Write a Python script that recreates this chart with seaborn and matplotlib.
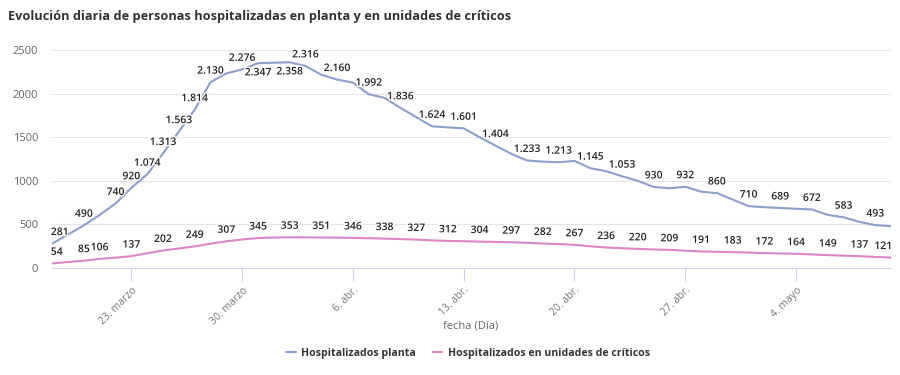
import pandas as pd
import seaborn as sns
import matplotlib.pyplot as plt
import matplotlib.patheffects as pe

# ----------------------------
# Data, one value per day from 18 March to 10 May
# ----------------------------
dates = pd.date_range("2020-03-18", "2020-05-10", freq="D")

planta = [281, 385, 490, 610, 740, 920, 1074, 1313, 1563, 1814,
          2130, 2230, 2276, 2347, 2353, 2358, 2316, 2215, 2160, 2125,
          1992, 1950, 1836, 1730, 1624, 1612, 1601, 1500, 1404, 1310,
          1233, 1220, 1213, 1228, 1145, 1110, 1053, 1000, 930, 915,
          932, 875, 860, 785, 710, 698, 689, 680, 672, 610,
          583, 530, 493, 480]

criticos = [54, 70, 85, 106, 120, 137, 170, 202, 225, 249,
            280, 307, 328, 345, 350, 353, 352, 351, 349, 346,
            342, 338, 333, 327, 318, 312, 308, 304, 300, 297,
            290, 282, 275, 267, 250, 236, 228, 220, 214, 209,
            200, 191, 187, 183, 178, 172, 168, 164, 157, 149,
            143, 137, 128, 121]

# days (index into the series) that show a data label
planta_labels = [0, 2, 4, 5, 6, 7, 8, 9, 10, 12, 13, 15, 16, 18, 20, 22, 24, 26,
                 28, 30, 32, 34, 36, 38, 40, 42, 44, 46, 48, 50, 52]
planta_below = [13, 15]
criticos_labels = [0, 2, 3, 5, 7, 9, 11, 13, 15, 17, 19, 21, 23, 25, 27, 29, 31,
                   33, 35, 37, 39, 41, 43, 45, 47, 49, 51, 53]

tick_dates = ["2020-03-23", "2020-03-30", "2020-04-06", "2020-04-13",
              "2020-04-20", "2020-04-27", "2020-05-04"]
tick_labels = ["23. marzo", "30. marzo", "6. abr.", "13. abr.",
               "20. abr.", "27. abr.", "4. mayo"]

title = "Evolución diaria de personas hospitalizadas en planta y en unidades de críticos"
series_names = ["Hospitalizados planta", "Hospitalizados en unidades de críticos"]
colors = ["#8c9fcd", "#dc86c8"]

df = pd.DataFrame({"fecha": dates, "planta": planta, "criticos": criticos})

# ----------------------------
# Plot
# ----------------------------
sns.set_theme(style="white")
plt.rcParams['font.family'] = ['Open Sans', 'DejaVu Sans']

fig = plt.figure(figsize=(9, 3.75), dpi=100)
ax = fig.add_axes([0.058, 0.285, 0.932, 0.582])

sns.lineplot(data=df, x="fecha", y="planta", ax=ax, color=colors[0],
             linewidth=1.5, label=series_names[0])
sns.lineplot(data=df, x="fecha", y="criticos", ax=ax, color=colors[1],
             linewidth=1.5, label=series_names[1])


def fmt(v):
    return f"{v:,}".replace(",", ".")


halo = [pe.withStroke(linewidth=2, foreground="white")]
last = len(dates) - 1


def put_labels(values, days, below=()):
    for d in days:
        ha = "center"
        dx = 0
        if d == 0:
            ha, dx = "left", -1
        elif d == last:
            ha, dx = "right", 1
        dy, va = (4, "bottom")
        if d in below:
            dy, va = (-3, "top")
        ax.annotate(fmt(values[d]), (dates[d], values[d]), xytext=(dx, dy),
                    textcoords="offset points", ha=ha, va=va, fontsize=7.5,
                    fontweight="semibold", color="#222222", path_effects=halo,
                    zorder=5)


put_labels(planta, planta_labels, planta_below)
put_labels(criticos, criticos_labels)

ax.set_xlim(dates[0], dates[-1])
ax.set_ylim(0, 2500)
ax.set_yticks([0, 500, 1000, 1500, 2000, 2500])
ax.yaxis.grid(True, color="#e6e6e6", linewidth=0.8)
ax.xaxis.grid(False)

ax.set_xticks(pd.to_datetime(tick_dates))
ax.set_xticklabels(tick_labels, rotation=45, ha="right", va="top",
                   rotation_mode="anchor", fontsize=7.5, color="#777777")
ax.tick_params(axis="x", length=9, width=0.8, color="#ccd6eb", pad=3, bottom=True)
ax.tick_params(axis="y", length=0, labelsize=8, labelcolor="#666666", pad=10)

for s in ["top", "right", "left"]:
    ax.spines[s].set_visible(False)
ax.spines["bottom"].set_color("#ccd6eb")
ax.spines["bottom"].set_linewidth(0.8)

ax.set_xlabel("")
ax.set_ylabel("")
ax.legend_.remove()

fig.text(0.009, 0.957, title, fontsize=9.2, fontweight="bold", color="#333333",
         va="center", ha="left")
fig.text(0.523, 0.131, "fecha (Día)", fontsize=8, color="#666666",
         ha="center", va="center")

handles, labels = ax.get_legend_handles_labels()
fig.legend(handles, labels, loc="center", bbox_to_anchor=(0.52, 0.058), ncol=2,
           frameon=False, handlelength=0.9, handletextpad=0.5, columnspacing=1.6,
           prop={"size": 7.6, "weight": "bold"}, labelcolor="#333333")

plt.savefig("out.png", dpi=100)
